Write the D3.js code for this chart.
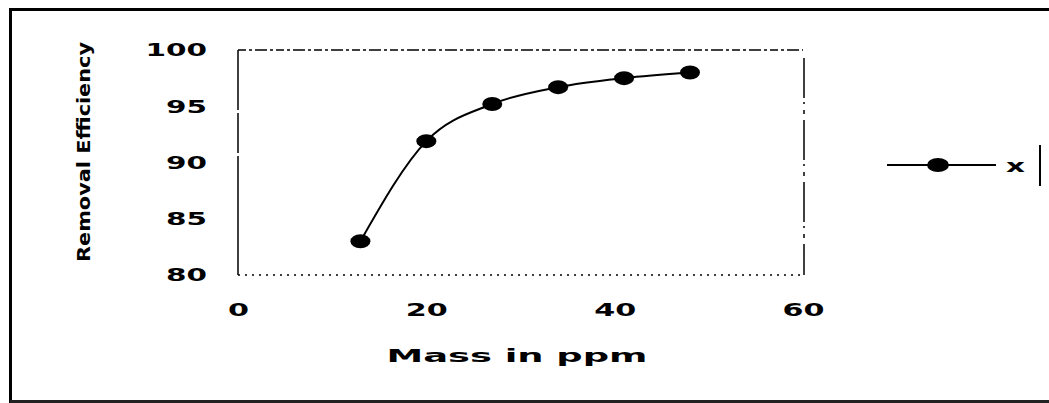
<!DOCTYPE html>
<html><head><meta charset="utf-8">
<script src="https://cdn.jsdelivr.net/npm/d3@7"></script>
<style>body{margin:0;background:#fff;} text{font-family:"DejaVu Sans","Liberation Sans",Arial,sans-serif;}</style>
</head><body><svg id="c" width="1049" height="403"></svg>
<script>
const massPpm = [13, 20, 27, 34, 41, 48];
const removalEfficiency = [83.0, 91.9, 95.2, 96.7, 97.5, 98.0];
const xTicks = [0, 20, 40, 60];
const yTicks = [80, 85, 90, 95, 100];
const seriesName = "x";

const svg = d3.select("#c");
// outer frame (left, top, bottom)
svg.append("path").attr("d","M10.5,403 L10.5,9.5 L1049,9.5").attr("fill","none").attr("stroke","#000").attr("stroke-width",3);
svg.append("line").attr("x1",10).attr("x2",1049).attr("y1",401.5).attr("y2",401.5).attr("stroke","#222").attr("stroke-width",3);

const x = d3.scaleLinear().domain([0,60]).range([238,803]);
const y = d3.scaleLinear().domain([80,100]).range([275,50]);

// plot border
svg.append("line").attr("x1",x(0)).attr("x2",x(0)).attr("y1",y(100)).attr("y2",y(80)).attr("stroke","#000").attr("stroke-width",1.5).attr("stroke-dasharray","60,3,40,3,200");
svg.append("line").attr("x1",x(0)).attr("x2",x(60)).attr("y1",y(100)).attr("y2",y(100)).attr("stroke","#000").attr("stroke-width",1.5).attr("stroke-dasharray","8,3,3,3,12,3,3,3");
svg.append("line").attr("x1",x(0)).attr("x2",x(60)).attr("y1",y(80)).attr("y2",y(80)).attr("stroke","#000").attr("stroke-width",1.5).attr("stroke-dasharray","2,5");
svg.append("line").attr("x1",x(60)+1).attr("x2",x(60)+1).attr("y1",y(100)+8).attr("y2",y(80)).attr("stroke","#000").attr("stroke-width",1.5).attr("stroke-dasharray","40,4,2,6,4,6");

const wide = (sel, per) => sel.attr("font-size",18).attr("font-weight","bold").attr("fill","#000")
  .attr("lengthAdjust","spacingAndGlyphs").attr("textLength", function(){ return this.textContent.length*per; });

// axes labels
const yAxis = d3.axisLeft(y).tickValues(yTicks).tickSize(0).tickPadding(31);
const gy = svg.append("g").attr("transform",`translate(${x(0)},0)`).call(yAxis);
gy.select(".domain").remove();
wide(gy.selectAll("text"), 20.5);

const xAxis = d3.axisBottom(x).tickValues(xTicks).tickSize(0).tickPadding(28);
const gx = svg.append("g").attr("transform",`translate(0,${y(80)})`).call(xAxis);
gx.select(".domain").remove();
wide(gx.selectAll("text"), 21);

svg.append("text").attr("x",517).attr("y",362).attr("text-anchor","middle")
  .attr("font-size",18).attr("font-weight","bold").attr("textLength",261).attr("lengthAdjust","spacingAndGlyphs").text("Mass in ppm");
svg.append("text").attr("transform",`translate(90,152) rotate(-90)`).attr("text-anchor","middle")
  .attr("font-size",17).attr("font-weight","bold").attr("textLength",220).attr("lengthAdjust","spacingAndGlyphs").text("Removal Efficiency");

// line + markers
const data = massPpm.map((m,i)=>({m, e: removalEfficiency[i]}));
svg.append("path").datum(data).attr("fill","none").attr("stroke","#000").attr("stroke-width",2)
  .attr("d", d3.line().x(d=>x(d.m)).y(d=>y(d.e)).curve(d3.curveMonotoneX));
svg.selectAll("ellipse.pt").data(data).join("ellipse").attr("class","pt")
  .attr("cx",d=>x(d.m)).attr("cy",d=>y(d.e)).attr("rx",10).attr("ry",7).attr("fill","#000");

// legend
svg.append("line").attr("x1",887).attr("x2",996).attr("y1",165).attr("y2",165).attr("stroke","#000").attr("stroke-width",2);
svg.append("ellipse").attr("cx",938).attr("cy",165).attr("rx",11).attr("ry",7).attr("fill","#000");
svg.append("text").attr("x",1006).attr("y",172).attr("font-size",18).attr("font-weight","bold").attr("textLength",19).attr("lengthAdjust","spacingAndGlyphs").text(seriesName);
svg.append("line").attr("x1",1040).attr("x2",1040).attr("y1",145).attr("y2",186).attr("stroke","#000").attr("stroke-width",2);
</script></body></html>
